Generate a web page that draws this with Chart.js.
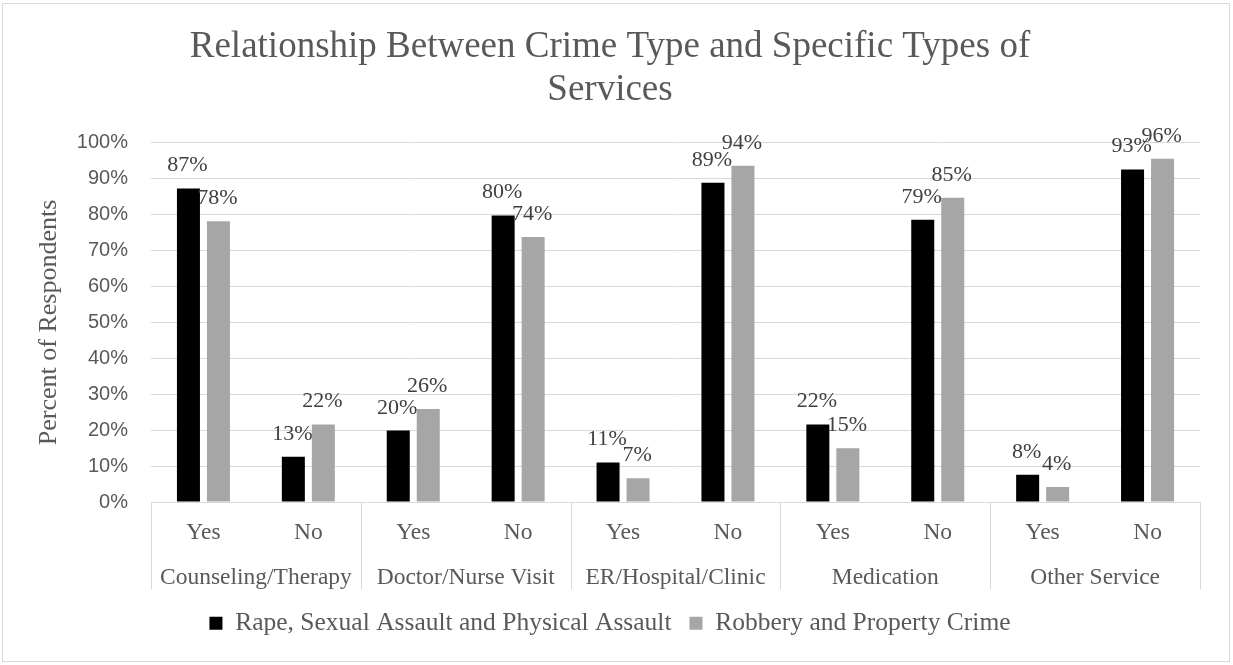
<!DOCTYPE html>
<html>
<head>
<meta charset="utf-8">
<script src="https://cdn.jsdelivr.net/npm/chart.js@4/dist/chart.umd.min.js"></script>
<style>
  html, body { margin: 0; padding: 0; background: #ffffff; }
  #wrap { position: relative; width: 1233px; height: 665px; }
</style>
</head>
<body>
<div id="wrap"><canvas id="c" width="1233" height="665"></canvas></div>
<script>
const titleLines = ["Relationship Between Crime Type and Specific Types of", "Services"];
const subCategories = ["Yes", "No", "Yes", "No", "Yes", "No", "Yes", "No", "Yes", "No"];
const groups = ["Counseling/Therapy", "Doctor/Nurse Visit", "ER/Hospital/Clinic", "Medication", "Other Service"];
const seriesNames = ["Rape, Sexual Assault and Physical Assault", "Robbery and Property Crime"];
const violentCrime = [87.3, 12.6, 19.9, 79.8, 11.0, 88.9, 21.6, 78.6, 7.6, 92.6];
const propertyCrime = [78.2, 21.6, 25.9, 73.8, 6.6, 93.6, 15.0, 84.7, 4.2, 95.6];
const yTicks = [0, 10, 20, 30, 40, 50, 60, 70, 80, 90, 100];
const yTitle = "Percent of Respondents";

const SERIF = "'Liberation Serif', 'Times New Roman', serif";
const SANS = "'Liberation Sans', Arial, sans-serif";
const TEXT = "#595959";
const GRID = "#d9d9d9";

const frame = {
  id: 'frame',
  beforeDraw(chart) {
    const c = chart.ctx;
    c.save();
    c.fillStyle = '#ffffff';
    c.fillRect(0, 0, chart.width, chart.height);
    c.strokeStyle = GRID;
    c.lineWidth = 1;
    c.strokeRect(2.5, 3.5, chart.width - 6, chart.height - 7);
    c.restore();
  }
};

const separators = {
  id: 'separators',
  afterDraw(chart) {
    const x = chart.scales.x, x2 = chart.scales.x2;
    const c = chart.ctx;
    c.save();
    c.strokeStyle = GRID;
    c.lineWidth = 1;
    for (let i = 0; i <= groups.length; i++) {
      const px = Math.round(x2.getPixelForValue(i - 0.5)) + 0.5;
      c.beginPath();
      c.moveTo(px, x.top);
      c.lineTo(px, x2.bottom - 3);
      c.stroke();
    }
    c.restore();
  }
};

const dataLabels = {
  id: 'dataLabels',
  afterDatasetsDraw(chart) {
    const c = chart.ctx;
    c.save();
    c.font = "22px " + SERIF;
    c.fillStyle = "#404040";
    c.textAlign = 'center';
    c.textBaseline = 'alphabetic';
    chart.data.datasets.forEach((ds, di) => {
      const meta = chart.getDatasetMeta(di);
      meta.data.forEach((bar, i) => {
        c.fillText(Math.round(ds.data[i]) + '%', bar.x - 1, bar.y - 17);
      });
    });
    c.restore();
  }
};

function noSidePadding(scale) { scale.paddingLeft = 0; scale.paddingRight = 0; }

new Chart(document.getElementById('c'), {
  type: 'bar',
  data: {
    labels: subCategories,
    datasets: [
      { label: seriesNames[0], data: violentCrime, backgroundColor: '#000000', borderWidth: 0,
        categoryPercentage: 0.572, barPercentage: 0.767 },
      { label: seriesNames[1], data: propertyCrime, backgroundColor: '#a6a6a6', borderWidth: 0,
        categoryPercentage: 0.572, barPercentage: 0.767 }
    ]
  },
  options: {
    responsive: false,
    animation: false,
    devicePixelRatio: 1,
    layout: { padding: { left: 20, right: 33, top: 22, bottom: 19.1 } },
    plugins: {
      title: {
        display: true,
        text: titleLines,
        color: TEXT,
        font: { family: SERIF, size: 37, weight: 'normal', lineHeight: 1.16 },
        padding: { top: 4, bottom: 31 }
      },
      legend: {
        position: 'bottom',
        labels: {
          color: TEXT,
          font: { family: SERIF, size: 25.5 },
          boxWidth: 13,
          boxHeight: 13,
          padding: 18
        }
      },
      tooltip: { enabled: false }
    },
    scales: {
      y: {
        min: 0,
        max: 100,
        afterBuildTicks(scale) { scale.ticks = yTicks.map(v => ({ value: v })); },
        afterFit(scale) { scale.width = 131; },
        ticks: {
          color: TEXT,
          font: { family: SANS, size: 20 },
          padding: 23,
          callback: v => v + '%'
        },
        grid: { color: GRID, lineWidth: 1, drawTicks: false },
        border: { display: false },
        title: {
          display: true,
          text: yTitle,
          color: TEXT,
          font: { family: SERIF, size: 26 },
          padding: { top: 13.4, bottom: 0 }
        }
      },
      x: {
        type: 'category',
        position: 'bottom',
        labels: subCategories,
        grid: { display: false, drawTicks: false },
        border: { display: false },
        afterFit: noSidePadding,
        ticks: {
          color: TEXT,
          font: { family: SERIF, size: 23.5 },
          padding: 17,
          autoSkip: false,
          maxRotation: 0
        }
      },
      x2: {
        type: 'category',
        position: 'bottom',
        labels: groups,
        offset: true,
        grid: { display: false, drawTicks: false },
        border: { display: false },
        afterFit: noSidePadding,
        ticks: {
          color: TEXT,
          font: { family: SERIF, size: 23.5 },
          padding: 0,
          autoSkip: false,
          maxRotation: 0
        }
      }
    }
  },
  plugins: [frame, separators, dataLabels]
});
</script>
</body>
</html>
